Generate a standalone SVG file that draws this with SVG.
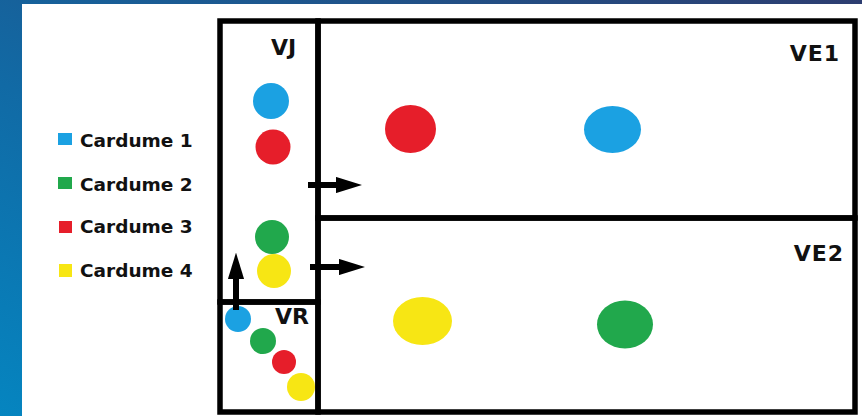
<svg xmlns="http://www.w3.org/2000/svg" width="862" height="416" viewBox="0 0 862 416">
  <defs>
    <linearGradient id="bg" x1="0" y1="1" x2="1" y2="0">
      <stop offset="0" stop-color="#0585c0"/>
      <stop offset="0.4" stop-color="#116aa5"/>
      <stop offset="1" stop-color="#2d3d70"/>
    </linearGradient>
    <marker id="ah" viewBox="0 0 10 10" refX="0" refY="5" markerWidth="4.4" markerHeight="2.7" markerUnits="strokeWidth" orient="auto" preserveAspectRatio="none">
      <path d="M0,0 L10,5 L0,10 z" fill="#000"/>
    </marker>
    <style>
      .frame { fill: none; stroke: #000; stroke-width: 5.5; }
      .lbl { font-family: "DejaVu Sans", Verdana, sans-serif; font-weight: bold; fill: #111; }
      .leg { font-size: 18.5px; }
      .zone { font-size: 22px; }
      .conn { stroke: #000; stroke-width: 6; fill: none; }
      .c1 { fill: #1ba1e2; }
      .c2 { fill: #21a84c; }
      .c3 { fill: #e61e2a; }
      .c4 { fill: #f7e614; }
    </style>
  </defs>
  <rect x="0" y="0" width="862" height="416" fill="url(#bg)"/>
  <rect x="22" y="4" width="840" height="412" fill="#fff"/>

  <g id="legend">
    <rect class="c1" x="58" y="133" width="14" height="12"/>
    <text class="lbl leg" x="80" y="147">Cardume 1</text>
    <rect class="c2" x="58" y="177" width="14" height="12"/>
    <text class="lbl leg" x="80" y="191">Cardume 2</text>
    <rect class="c3" x="59" y="221" width="13" height="12"/>
    <text class="lbl leg" x="80" y="233">Cardume 3</text>
    <rect class="c4" x="59" y="264" width="13" height="13"/>
    <text class="lbl leg" x="80" y="277">Cardume 4</text>
  </g>

  <g id="VJ">
    <rect class="frame" x="220" y="21" width="98" height="281"/>
    <text class="lbl zone" x="271" y="55">VJ</text>
    <circle class="c1" cx="271" cy="101" r="18"/>
    <circle class="c3" cx="273" cy="147" r="17.5"/>
    <circle class="c2" cx="272" cy="237" r="17"/>
    <circle class="c4" cx="274" cy="271" r="17"/>
  </g>

  <g id="VR">
    <rect class="frame" x="220" y="302" width="98" height="110"/>
    <text class="lbl zone" x="275" y="324">VR</text>
    <circle class="c1" cx="238" cy="319" r="13"/>
    <circle class="c2" cx="263" cy="341" r="13"/>
    <circle class="c3" cx="284" cy="362" r="12"/>
    <circle class="c4" cx="301" cy="387" r="14"/>
  </g>

  <g id="VE1">
    <rect class="frame" x="318" y="21" width="537" height="197"/>
    <text class="lbl zone" x="840" y="61" text-anchor="end" letter-spacing="1">VE1</text>
    <ellipse class="c3" cx="410.5" cy="129" rx="25.5" ry="24"/>
    <ellipse class="c1" cx="612.5" cy="129.5" rx="28.5" ry="23.5"/>
  </g>

  <g id="VE2">
    <rect class="frame" x="318" y="218" width="537" height="194"/>
    <text class="lbl zone" x="844" y="261" text-anchor="end" letter-spacing="1">VE2</text>
    <ellipse class="c4" cx="422.5" cy="321" rx="29.5" ry="24"/>
    <ellipse class="c2" cx="625" cy="324.5" rx="28" ry="24"/>
  </g>

  <g id="connectors">
    <line class="conn" x1="308" y1="185" x2="336" y2="185" marker-end="url(#ah)"/>
    <line class="conn" x1="310" y1="267" x2="339" y2="267" marker-end="url(#ah)"/>
    <line class="conn" x1="236" y1="310" x2="236" y2="279" marker-end="url(#ah)"/>
  </g>
</svg>
